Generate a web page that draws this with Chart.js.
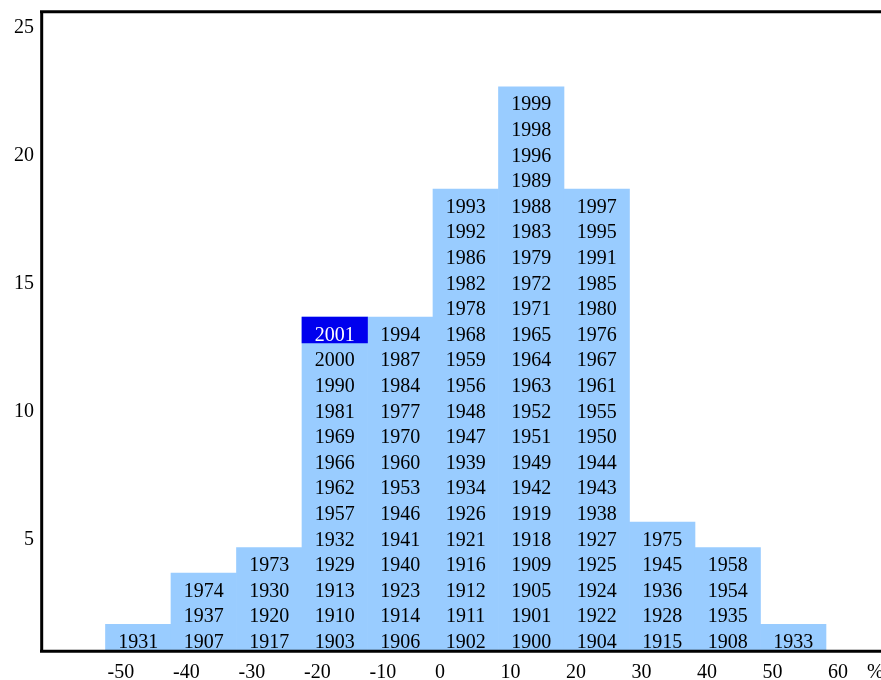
<!DOCTYPE html>
<html>
<head>
<meta charset="utf-8">
<script src="https://cdn.jsdelivr.net/npm/chart.js@4/dist/chart.umd.min.js"></script>
<style>
html,body{margin:0;padding:0;background:#fff;}
#wrap{width:881px;height:680px;position:relative;}
</style>
</head>
<body>
<div id="wrap"><canvas id="c" width="881" height="680"></canvas></div>
<script>
// Bin starts (percent return), each bin 10 wide
const binStarts = [-50, -40, -30, -20, -10, 0, 10, 20, 30, 40, 50];
// Years in each bin, listed bottom to top
const bin_m50 = [1931];
const bin_m40 = [1907, 1937, 1974];
const bin_m30 = [1917, 1920, 1930, 1973];
const bin_m20 = [1903, 1910, 1913, 1929, 1932, 1957, 1962, 1966, 1969, 1981, 1990, 2000, 2001];
const bin_m10 = [1906, 1914, 1923, 1940, 1941, 1946, 1953, 1960, 1970, 1977, 1984, 1987, 1994];
const bin_0   = [1902, 1911, 1912, 1916, 1921, 1926, 1934, 1939, 1947, 1948, 1956, 1959, 1968, 1978, 1982, 1986, 1992, 1993];
const bin_10  = [1900, 1901, 1905, 1909, 1918, 1919, 1942, 1949, 1951, 1952, 1963, 1964, 1965, 1971, 1972, 1979, 1983, 1988, 1989, 1996, 1998, 1999];
const bin_20  = [1904, 1922, 1924, 1925, 1927, 1938, 1943, 1944, 1950, 1955, 1961, 1967, 1976, 1980, 1985, 1991, 1995, 1997];
const bin_30  = [1915, 1928, 1936, 1945, 1975];
const bin_40  = [1908, 1935, 1954, 1958];
const bin_50  = [1933];
const binYears = [bin_m50, bin_m40, bin_m30, bin_m20, bin_m10, bin_0, bin_10, bin_20, bin_30, bin_40, bin_50];
const highlightYear = 2001;
const xTickValues = [-50, -40, -30, -20, -10, 0, 10, 20, 30, 40, 50, 60];
const yTickValues = [5, 10, 15, 20, 25];
const xUnitLabel = '%';

const BIN_W = 10;
const FONT = 'Liberation Serif, "Times New Roman", serif';
const LIGHT = '#99ccff';
const DARK = '#0000ee';

// Column heights
const columnData = binStarts.map((b, i) => ({x: b + BIN_W / 2, y: binYears[i].length}));
// Highlighted cell as floating bar
const hlData = [];
binStarts.forEach((b, i) => {
  const j = binYears[i].indexOf(highlightYear);
  if (j >= 0) hlData.push({x: b + BIN_W / 2, y: [j, j + 1]});
});

const yearLabels = {
  id: 'yearLabels',
  afterDatasetsDraw(chart) {
    const {ctx, scales: {x, y}} = chart;
    ctx.save();
    ctx.font = '20px ' + FONT;
    ctx.textAlign = 'center';
    ctx.textBaseline = 'alphabetic';
    binStarts.forEach((b, i) => {
      const cx = x.getPixelForValue(b + BIN_W / 2);
      binYears[i].forEach((yr, j) => {
        const by = y.getPixelForValue(j);
        ctx.fillStyle = yr === highlightYear ? '#ffffff' : '#000000';
        ctx.fillText(String(yr), cx, by - 2);
      });
    });
    ctx.restore();
  }
};

const frame = {
  id: 'frame',
  afterDraw(chart) {
    const {ctx, chartArea: a} = chart;
    ctx.save();
    ctx.strokeStyle = '#000';
    ctx.lineWidth = 3;
    ctx.beginPath();
    ctx.moveTo(a.left, a.top + 1.7); ctx.lineTo(chart.width, a.top + 1.7);
    ctx.moveTo(a.left + 1.7, a.top + 0.2); ctx.lineTo(a.left + 1.7, a.bottom + 2.7);
    ctx.moveTo(a.left, a.bottom + 1.3); ctx.lineTo(chart.width, a.bottom + 1.3);
    ctx.stroke();
    // unit label at the right end of the x axis
    ctx.font = '20px ' + FONT;
    ctx.fillStyle = '#000';
    ctx.textAlign = 'left';
    ctx.textBaseline = 'alphabetic';
    ctx.fillText(xUnitLabel, 867, 678);
    ctx.restore();
  }
};

function noPad(s) { s.paddingTop = 0; s.paddingBottom = 0; s.paddingLeft = 0; s.paddingRight = 0; }

new Chart(document.getElementById('c'), {
  type: 'bar',
  data: {
    datasets: [
      {data: hlData, backgroundColor: DARK, borderWidth: 0, barPercentage: 1, categoryPercentage: 1, order: 0},
      {data: columnData, backgroundColor: LIGHT, borderWidth: 0, barPercentage: 1, categoryPercentage: 1, order: 1}
    ]
  },
  options: {
    responsive: false,
    animation: false,
    grouped: false,
    layout: {padding: {top: 10, right: 0, left: 0, bottom: 0}},
    plugins: {legend: {display: false}, tooltip: {enabled: false}},
    scales: {
      x: {
        type: 'linear',
        offset: false,
        min: -60,
        max: 68.4,
        afterBuildTicks(s) { s.ticks = xTickValues.map(v => ({value: v})); },
        afterFit(s) { s.height = 30; noPad(s); },
        grid: {display: false, drawTicks: false},
        border: {display: false},
        ticks: {
          align: 'start',
          labelOffset: 2,
          padding: 11,
          maxRotation: 0,
          autoSkip: false,
          color: '#000',
          font: {family: FONT, size: 20}
        }
      },
      y: {
        type: 'linear',
        min: 0,
        max: 25,
        afterBuildTicks(s) { s.ticks = yTickValues.map(v => ({value: v})); },
        afterFit(s) { s.width = 40; noPad(s); },
        grid: {display: false, drawTicks: false},
        border: {display: false},
        ticks: {
          labelOffset: 18,
          padding: 6,
          color: '#000',
          font: {family: FONT, size: 20}
        }
      }
    }
  },
  plugins: [yearLabels, frame]
});
</script>
</body>
</html>
